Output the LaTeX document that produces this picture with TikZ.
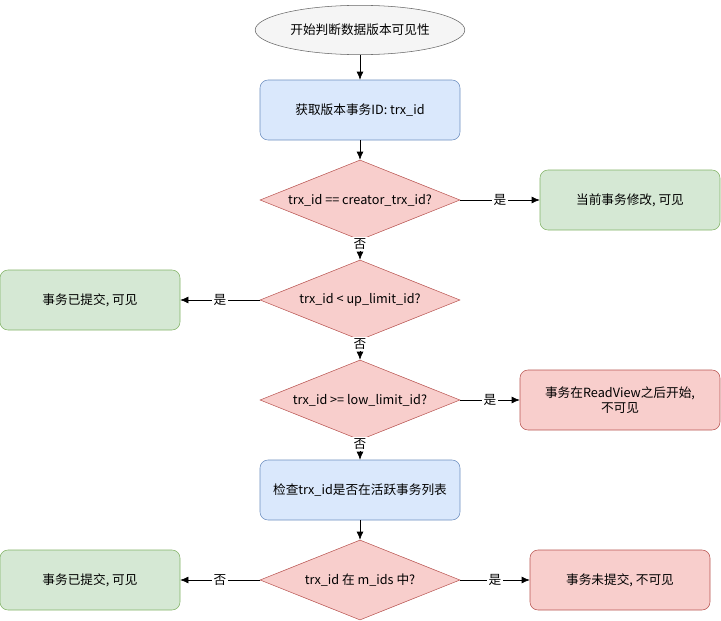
\documentclass[tikz,border=0pt]{standalone}
\usepackage{fontspec}
\setmainfont{Noto Sans CJK SC}
\usetikzlibrary{shapes.geometric,arrows.meta}
\definecolor{blueF}{HTML}{DAE8FC}\definecolor{blueD}{HTML}{6C8EBF}
\definecolor{greenF}{HTML}{D5E8D4}\definecolor{greenD}{HTML}{82B366}
\definecolor{redF}{HTML}{F8CECC}\definecolor{redD}{HTML}{B85450}
\definecolor{greyF}{HTML}{F5F5F5}\definecolor{greyD}{HTML}{666666}
\begin{document}
\begin{tikzpicture}[x=0.75pt,y=-0.75pt,-{Latex[length=6pt,width=5pt]},
    box node/.style={rectangle, rounded corners=6pt, draw, minimum width=150pt, minimum height=45pt, align=center},
    test node/.style={diamond, aspect=2.5, draw=redD, fill=redF, minimum width=150pt, minimum height=60pt, inner sep=0pt},
    blue node/.style={box node, draw=blueD, fill=blueF},
    green node/.style={box node, draw=greenD, fill=greenF, minimum width=135pt},
    red node/.style={box node, draw=redD, fill=redF}]
        \tikzstyle{every node}=[font=\fontsize{9.5}{11}\selectfont]
        \useasboundingbox (0,0) rectangle (721,621);

          \node[ellipse, draw=greyD, fill=greyF, minimum width=150pt, minimum height=37pt] (1) at (360,30) {开始判断数据版本可见性};
          \node[blue node] (2) at (360,110) {获取版本事务ID: trx\_id};
          \node[test node] (3) at (360,200) {trx\_id == creator\_trx\_id?};
          \node[green node] (4) at (630,200) {当前事务修改, 可见};
          \node[test node] (5) at (360,300) {trx\_id < up\_limit\_id?};
          \node[green node] (6) at (90,300) {事务已提交, 可见};
          \node[test node] (7) at (360,400) {trx\_id >= low\_limit\_id?};
          \node[red node, text width=140pt] (8) at (620,400) {事务在ReadView之后开始, 不可见};
          \node[blue node] (9) at (360,490) {检查trx\_id是否在活跃事务列表};
          \node[test node] (10) at (360,580) {trx\_id 在 m\_ids 中?};
          \node[green node] (11) at (90,580) {事务已提交, 可见};
          \node[red node, minimum width=135pt] (12) at (620,580) {事务未提交, 不可见};

          \path[every node/.style={font=\fontsize{9.5}{11}\selectfont, fill=white, inner sep=1pt}]
            (1) edge (2)
            (2) edge (3)
            (3) edge node {是} (4)
                edge node [pos=0.2] {否} (5)
            (5) edge node {是} (6)
                edge node [pos=0.2] {否} (7)
            (7) edge node {是} (8)
                edge node [pos=0.2] {否} (9)
            (9) edge (10)
            (10) edge node {否} (11)
                 edge node {是} (12);

        \end{tikzpicture}
\end{document}
